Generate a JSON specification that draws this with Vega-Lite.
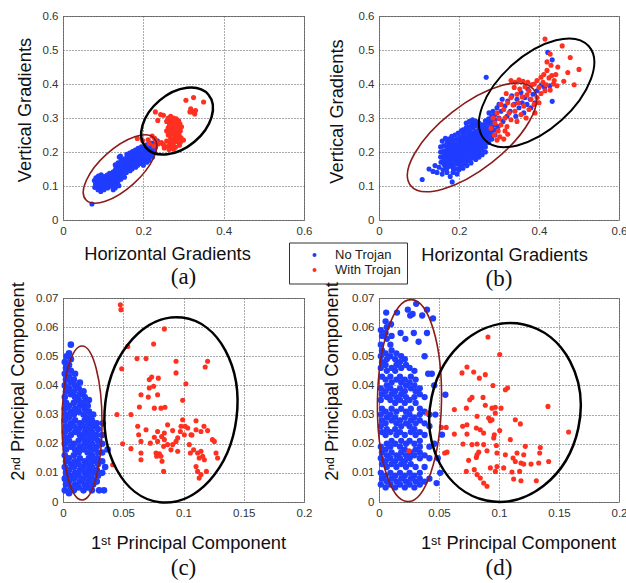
{
"$schema":"https://vega.github.io/schema/vega-lite/v6.json",
"background":"white",
"padding":{"left":7,"top":9,"right":5,"bottom":5},
"config":{
 "font":"Liberation Sans",
 "view":{"stroke":"#808080","strokeWidth":1,"fill":"white"},
 "axis":{"grid":true,"gridColor":"#555","gridDash":[1,2],"gridWidth":1,"domain":false,"ticks":false,"labelFont":"Liberation Sans","labelFontSize":11.5,"labelColor":"#333","labelPadding":5,"labelFlush":false,"labelOverlap":false,"titleFont":"Liberation Sans","titleFontSize":18.3,"titleFontWeight":"normal","titleColor":"#111","titleBaseline":"alphabetic","titleAlign":"center"},
 "title":{"font":"Liberation Serif","fontSize":23,"fontWeight":"normal","color":"#111","orient":"bottom","baseline":"alphabetic","anchor":"middle"},
 "point":{"shape":"circle","filled":true,"size":26,"opacity":1}
},
"datasets":{
"aN":[{"x":0.072,"y":0.047},{"x":0.079,"y":0.096},{"x":0.081,"y":0.106},{"x":0.078,"y":0.116},{"x":0.082,"y":0.124},{"x":0.087,"y":0.089},{"x":0.089,"y":0.099},{"x":0.086,"y":0.110},{"x":0.090,"y":0.119},{"x":0.088,"y":0.129},{"x":0.094,"y":0.084},{"x":0.096,"y":0.094},{"x":0.095,"y":0.104},{"x":0.093,"y":0.114},{"x":0.097,"y":0.123},{"x":0.095,"y":0.133},{"x":0.102,"y":0.089},{"x":0.104,"y":0.099},{"x":0.101,"y":0.109},{"x":0.105,"y":0.118},{"x":0.103,"y":0.128},{"x":0.111,"y":0.094},{"x":0.109,"y":0.104},{"x":0.112,"y":0.114},{"x":0.108,"y":0.122},{"x":0.110,"y":0.132},{"x":0.116,"y":0.099},{"x":0.118,"y":0.109},{"x":0.117,"y":0.119},{"x":0.119,"y":0.127},{"x":0.116,"y":0.137},{"x":0.125,"y":0.089},{"x":0.123,"y":0.101},{"x":0.126,"y":0.111},{"x":0.124,"y":0.121},{"x":0.122,"y":0.131},{"x":0.125,"y":0.142},{"x":0.130,"y":0.094},{"x":0.132,"y":0.107},{"x":0.131,"y":0.117},{"x":0.129,"y":0.128},{"x":0.133,"y":0.138},{"x":0.131,"y":0.150},{"x":0.130,"y":0.162},{"x":0.139,"y":0.101},{"x":0.137,"y":0.114},{"x":0.138,"y":0.125},{"x":0.140,"y":0.135},{"x":0.136,"y":0.146},{"x":0.139,"y":0.156},{"x":0.137,"y":0.168},{"x":0.140,"y":0.185},{"x":0.144,"y":0.120},{"x":0.146,"y":0.131},{"x":0.145,"y":0.142},{"x":0.143,"y":0.152},{"x":0.147,"y":0.163},{"x":0.145,"y":0.175},{"x":0.143,"y":0.188},{"x":0.153,"y":0.126},{"x":0.151,"y":0.138},{"x":0.152,"y":0.148},{"x":0.154,"y":0.158},{"x":0.150,"y":0.169},{"x":0.153,"y":0.180},{"x":0.158,"y":0.140},{"x":0.160,"y":0.150},{"x":0.159,"y":0.161},{"x":0.157,"y":0.171},{"x":0.161,"y":0.182},{"x":0.159,"y":0.193},{"x":0.167,"y":0.145},{"x":0.165,"y":0.156},{"x":0.166,"y":0.166},{"x":0.168,"y":0.176},{"x":0.164,"y":0.186},{"x":0.166,"y":0.197},{"x":0.172,"y":0.150},{"x":0.174,"y":0.161},{"x":0.173,"y":0.171},{"x":0.171,"y":0.181},{"x":0.175,"y":0.191},{"x":0.173,"y":0.201},{"x":0.181,"y":0.155},{"x":0.179,"y":0.166},{"x":0.180,"y":0.176},{"x":0.182,"y":0.186},{"x":0.178,"y":0.196},{"x":0.180,"y":0.206},{"x":0.186,"y":0.161},{"x":0.188,"y":0.171},{"x":0.187,"y":0.181},{"x":0.185,"y":0.191},{"x":0.189,"y":0.201},{"x":0.187,"y":0.211},{"x":0.195,"y":0.166},{"x":0.193,"y":0.176},{"x":0.194,"y":0.186},{"x":0.196,"y":0.196},{"x":0.192,"y":0.206},{"x":0.195,"y":0.215},{"x":0.200,"y":0.161},{"x":0.202,"y":0.173},{"x":0.201,"y":0.183},{"x":0.199,"y":0.193},{"x":0.203,"y":0.203},{"x":0.201,"y":0.213},{"x":0.209,"y":0.170},{"x":0.207,"y":0.181},{"x":0.208,"y":0.191},{"x":0.210,"y":0.201},{"x":0.206,"y":0.211},{"x":0.208,"y":0.221},{"x":0.214,"y":0.176},{"x":0.216,"y":0.188},{"x":0.215,"y":0.198},{"x":0.213,"y":0.208},{"x":0.217,"y":0.218},{"x":0.223,"y":0.185},{"x":0.221,"y":0.196},{"x":0.222,"y":0.206},{"x":0.224,"y":0.216},{"x":0.220,"y":0.226},{"x":0.228,"y":0.199},{"x":0.230,"y":0.214},{"x":0.229,"y":0.227},{"x":0.235,"y":0.233}],
"aR":[{"x":0.306,"y":0.352},{"x":0.325,"y":0.360},{"x":0.350,"y":0.347},{"x":0.318,"y":0.327},{"x":0.323,"y":0.318},{"x":0.330,"y":0.322},{"x":0.328,"y":0.312},{"x":0.316,"y":0.318},{"x":0.230,"y":0.318},{"x":0.243,"y":0.310},{"x":0.250,"y":0.308},{"x":0.236,"y":0.293},{"x":0.262,"y":0.300},{"x":0.258,"y":0.290},{"x":0.268,"y":0.305},{"x":0.275,"y":0.300},{"x":0.282,"y":0.298},{"x":0.270,"y":0.292},{"x":0.279,"y":0.290},{"x":0.288,"y":0.292},{"x":0.265,"y":0.282},{"x":0.273,"y":0.280},{"x":0.283,"y":0.282},{"x":0.291,"y":0.283},{"x":0.262,"y":0.272},{"x":0.270,"y":0.270},{"x":0.278,"y":0.272},{"x":0.287,"y":0.270},{"x":0.295,"y":0.274},{"x":0.258,"y":0.262},{"x":0.266,"y":0.260},{"x":0.275,"y":0.262},{"x":0.284,"y":0.258},{"x":0.292,"y":0.262},{"x":0.262,"y":0.250},{"x":0.272,"y":0.252},{"x":0.280,"y":0.248},{"x":0.289,"y":0.250},{"x":0.268,"y":0.240},{"x":0.276,"y":0.238},{"x":0.285,"y":0.240},{"x":0.294,"y":0.242},{"x":0.258,"y":0.232},{"x":0.266,"y":0.228},{"x":0.275,"y":0.226},{"x":0.283,"y":0.230},{"x":0.292,"y":0.228},{"x":0.300,"y":0.235},{"x":0.250,"y":0.222},{"x":0.260,"y":0.216},{"x":0.270,"y":0.218},{"x":0.280,"y":0.214},{"x":0.290,"y":0.220},{"x":0.245,"y":0.228},{"x":0.238,"y":0.224},{"x":0.232,"y":0.232},{"x":0.228,"y":0.240},{"x":0.222,"y":0.247},{"x":0.212,"y":0.236},{"x":0.198,"y":0.234},{"x":0.185,"y":0.240},{"x":0.215,"y":0.225},{"x":0.226,"y":0.218},{"x":0.252,"y":0.212},{"x":0.264,"y":0.207},{"x":0.275,"y":0.208}],
"bN":[{"x":0.108,"y":0.119},{"x":0.125,"y":0.150},{"x":0.135,"y":0.143},{"x":0.145,"y":0.140},{"x":0.150,"y":0.155},{"x":0.140,"y":0.160},{"x":0.160,"y":0.148},{"x":0.158,"y":0.135},{"x":0.170,"y":0.140},{"x":0.183,"y":0.112},{"x":0.178,"y":0.128},{"x":0.165,"y":0.160},{"x":0.155,"y":0.170},{"x":0.188,"y":0.150},{"x":0.195,"y":0.135},{"x":0.185,"y":0.140},{"x":0.154,"y":0.185},{"x":0.154,"y":0.200},{"x":0.154,"y":0.215},{"x":0.158,"y":0.232},{"x":0.166,"y":0.240},{"x":0.174,"y":0.238},{"x":0.182,"y":0.246},{"x":0.190,"y":0.250},{"x":0.198,"y":0.256},{"x":0.206,"y":0.262},{"x":0.200,"y":0.148},{"x":0.210,"y":0.152},{"x":0.220,"y":0.160},{"x":0.230,"y":0.168},{"x":0.162,"y":0.165},{"x":0.162,"y":0.178},{"x":0.162,"y":0.190},{"x":0.162,"y":0.203},{"x":0.162,"y":0.218},{"x":0.170,"y":0.152},{"x":0.170,"y":0.164},{"x":0.170,"y":0.175},{"x":0.170,"y":0.185},{"x":0.170,"y":0.195},{"x":0.170,"y":0.205},{"x":0.170,"y":0.216},{"x":0.170,"y":0.226},{"x":0.178,"y":0.158},{"x":0.178,"y":0.170},{"x":0.178,"y":0.180},{"x":0.178,"y":0.190},{"x":0.178,"y":0.200},{"x":0.178,"y":0.210},{"x":0.178,"y":0.221},{"x":0.178,"y":0.232},{"x":0.186,"y":0.150},{"x":0.186,"y":0.161},{"x":0.186,"y":0.172},{"x":0.186,"y":0.182},{"x":0.186,"y":0.192},{"x":0.186,"y":0.202},{"x":0.186,"y":0.212},{"x":0.186,"y":0.222},{"x":0.186,"y":0.235},{"x":0.194,"y":0.150},{"x":0.194,"y":0.165},{"x":0.194,"y":0.175},{"x":0.194,"y":0.185},{"x":0.194,"y":0.195},{"x":0.194,"y":0.205},{"x":0.194,"y":0.215},{"x":0.194,"y":0.225},{"x":0.194,"y":0.238},{"x":0.202,"y":0.160},{"x":0.202,"y":0.170},{"x":0.202,"y":0.180},{"x":0.202,"y":0.190},{"x":0.202,"y":0.200},{"x":0.202,"y":0.210},{"x":0.202,"y":0.220},{"x":0.202,"y":0.232},{"x":0.202,"y":0.245},{"x":0.210,"y":0.165},{"x":0.210,"y":0.178},{"x":0.210,"y":0.188},{"x":0.210,"y":0.198},{"x":0.210,"y":0.208},{"x":0.210,"y":0.218},{"x":0.210,"y":0.228},{"x":0.210,"y":0.240},{"x":0.210,"y":0.252},{"x":0.210,"y":0.265},{"x":0.218,"y":0.172},{"x":0.218,"y":0.183},{"x":0.218,"y":0.193},{"x":0.218,"y":0.203},{"x":0.218,"y":0.213},{"x":0.218,"y":0.223},{"x":0.218,"y":0.233},{"x":0.218,"y":0.245},{"x":0.218,"y":0.258},{"x":0.218,"y":0.272},{"x":0.218,"y":0.285},{"x":0.226,"y":0.175},{"x":0.226,"y":0.188},{"x":0.226,"y":0.198},{"x":0.226,"y":0.208},{"x":0.226,"y":0.218},{"x":0.226,"y":0.228},{"x":0.226,"y":0.238},{"x":0.226,"y":0.250},{"x":0.226,"y":0.262},{"x":0.226,"y":0.275},{"x":0.226,"y":0.290},{"x":0.234,"y":0.182},{"x":0.234,"y":0.195},{"x":0.234,"y":0.205},{"x":0.234,"y":0.215},{"x":0.234,"y":0.225},{"x":0.234,"y":0.235},{"x":0.234,"y":0.245},{"x":0.234,"y":0.255},{"x":0.234,"y":0.270},{"x":0.234,"y":0.283},{"x":0.234,"y":0.295},{"x":0.242,"y":0.178},{"x":0.242,"y":0.190},{"x":0.242,"y":0.202},{"x":0.242,"y":0.212},{"x":0.242,"y":0.222},{"x":0.242,"y":0.232},{"x":0.242,"y":0.242},{"x":0.242,"y":0.252},{"x":0.242,"y":0.262},{"x":0.242,"y":0.278},{"x":0.242,"y":0.290},{"x":0.250,"y":0.185},{"x":0.250,"y":0.198},{"x":0.250,"y":0.210},{"x":0.250,"y":0.220},{"x":0.250,"y":0.230},{"x":0.250,"y":0.240},{"x":0.250,"y":0.250},{"x":0.250,"y":0.260},{"x":0.250,"y":0.272},{"x":0.250,"y":0.285},{"x":0.258,"y":0.192},{"x":0.258,"y":0.205},{"x":0.258,"y":0.218},{"x":0.258,"y":0.228},{"x":0.258,"y":0.238},{"x":0.258,"y":0.248},{"x":0.258,"y":0.258},{"x":0.258,"y":0.268},{"x":0.258,"y":0.280},{"x":0.266,"y":0.200},{"x":0.266,"y":0.215},{"x":0.266,"y":0.228},{"x":0.266,"y":0.240},{"x":0.266,"y":0.250},{"x":0.266,"y":0.260},{"x":0.266,"y":0.270},{"x":0.266,"y":0.282},{"x":0.266,"y":0.292},{"x":0.274,"y":0.228},{"x":0.274,"y":0.240},{"x":0.274,"y":0.252},{"x":0.274,"y":0.262},{"x":0.274,"y":0.272},{"x":0.274,"y":0.285},{"x":0.274,"y":0.298},{"x":0.282,"y":0.238},{"x":0.282,"y":0.250},{"x":0.282,"y":0.262},{"x":0.282,"y":0.275},{"x":0.282,"y":0.290},{"x":0.282,"y":0.305},{"x":0.290,"y":0.250},{"x":0.290,"y":0.265},{"x":0.290,"y":0.280},{"x":0.290,"y":0.295},{"x":0.290,"y":0.310},{"x":0.298,"y":0.275},{"x":0.300,"y":0.300},{"x":0.305,"y":0.320},{"x":0.310,"y":0.290},{"x":0.315,"y":0.335},{"x":0.320,"y":0.305},{"x":0.322,"y":0.350},{"x":0.328,"y":0.320},{"x":0.332,"y":0.365},{"x":0.338,"y":0.340},{"x":0.342,"y":0.305},{"x":0.345,"y":0.355},{"x":0.350,"y":0.330},{"x":0.355,"y":0.375},{"x":0.358,"y":0.345},{"x":0.362,"y":0.315},{"x":0.365,"y":0.360},{"x":0.370,"y":0.340},{"x":0.372,"y":0.385},{"x":0.378,"y":0.355},{"x":0.380,"y":0.330},{"x":0.385,"y":0.370},{"x":0.300,"y":0.340},{"x":0.308,"y":0.355},{"x":0.295,"y":0.330},{"x":0.285,"y":0.320},{"x":0.275,"y":0.315},{"x":0.390,"y":0.345},{"x":0.395,"y":0.380},{"x":0.268,"y":0.420},{"x":0.422,"y":0.493},{"x":0.433,"y":0.471},{"x":0.433,"y":0.349},{"x":0.406,"y":0.397},{"x":0.414,"y":0.390},{"x":0.427,"y":0.395}],
"bR":[{"x":0.415,"y":0.532},{"x":0.458,"y":0.512},{"x":0.478,"y":0.478},{"x":0.500,"y":0.443},{"x":0.472,"y":0.434},{"x":0.488,"y":0.398},{"x":0.462,"y":0.408},{"x":0.447,"y":0.450},{"x":0.428,"y":0.488},{"x":0.420,"y":0.465},{"x":0.430,"y":0.455},{"x":0.405,"y":0.420},{"x":0.412,"y":0.428},{"x":0.420,"y":0.440},{"x":0.425,"y":0.418},{"x":0.432,"y":0.425},{"x":0.438,"y":0.410},{"x":0.410,"y":0.405},{"x":0.418,"y":0.398},{"x":0.428,"y":0.382},{"x":0.436,"y":0.400},{"x":0.442,"y":0.428},{"x":0.400,"y":0.390},{"x":0.415,"y":0.380},{"x":0.405,"y":0.372},{"x":0.395,"y":0.410},{"x":0.445,"y":0.395},{"x":0.388,"y":0.400},{"x":0.330,"y":0.410},{"x":0.340,"y":0.405},{"x":0.350,"y":0.412},{"x":0.360,"y":0.408},{"x":0.372,"y":0.405},{"x":0.382,"y":0.398},{"x":0.338,"y":0.390},{"x":0.352,"y":0.385},{"x":0.365,"y":0.392},{"x":0.375,"y":0.380},{"x":0.345,"y":0.370},{"x":0.358,"y":0.362},{"x":0.370,"y":0.368},{"x":0.380,"y":0.355},{"x":0.330,"y":0.360},{"x":0.318,"y":0.372},{"x":0.322,"y":0.345},{"x":0.335,"y":0.338},{"x":0.348,"y":0.345},{"x":0.362,"y":0.335},{"x":0.375,"y":0.325},{"x":0.388,"y":0.340},{"x":0.305,"y":0.340},{"x":0.312,"y":0.325},{"x":0.325,"y":0.315},{"x":0.340,"y":0.320},{"x":0.355,"y":0.310},{"x":0.368,"y":0.300},{"x":0.295,"y":0.315},{"x":0.300,"y":0.298},{"x":0.315,"y":0.300},{"x":0.330,"y":0.295},{"x":0.345,"y":0.290},{"x":0.285,"y":0.300},{"x":0.290,"y":0.285},{"x":0.305,"y":0.280},{"x":0.320,"y":0.275},{"x":0.298,"y":0.262},{"x":0.288,"y":0.250},{"x":0.302,"y":0.245},{"x":0.312,"y":0.238},{"x":0.322,"y":0.252},{"x":0.315,"y":0.262},{"x":0.295,"y":0.235},{"x":0.280,"y":0.270},{"x":0.390,"y":0.315},{"x":0.395,"y":0.360},{"x":0.400,"y":0.345}],
"cN":[{"x":0.0015,"y":0.004},{"x":0.0025,"y":0.006},{"x":0.0015,"y":0.008},{"x":0.0025,"y":0.010},{"x":0.0015,"y":0.012},{"x":0.0025,"y":0.014},{"x":0.0015,"y":0.016},{"x":0.0025,"y":0.018},{"x":0.0015,"y":0.020},{"x":0.0025,"y":0.022},{"x":0.0015,"y":0.024},{"x":0.0025,"y":0.026},{"x":0.0015,"y":0.028},{"x":0.0025,"y":0.030},{"x":0.0015,"y":0.032},{"x":0.0025,"y":0.034},{"x":0.0015,"y":0.036},{"x":0.0025,"y":0.038},{"x":0.0015,"y":0.040},{"x":0.0025,"y":0.042},{"x":0.0015,"y":0.044},{"x":0.0025,"y":0.046},{"x":0.0015,"y":0.048},{"x":0.003,"y":0.050},{"x":0.005,"y":0.003},{"x":0.0065,"y":0.005},{"x":0.005,"y":0.007},{"x":0.0065,"y":0.009},{"x":0.005,"y":0.011},{"x":0.0065,"y":0.013},{"x":0.005,"y":0.015},{"x":0.0065,"y":0.019},{"x":0.005,"y":0.021},{"x":0.0065,"y":0.023},{"x":0.005,"y":0.025},{"x":0.0065,"y":0.027},{"x":0.005,"y":0.029},{"x":0.0065,"y":0.031},{"x":0.005,"y":0.033},{"x":0.0065,"y":0.037},{"x":0.005,"y":0.039},{"x":0.0065,"y":0.041},{"x":0.005,"y":0.043},{"x":0.0065,"y":0.045},{"x":0.005,"y":0.047},{"x":0.0065,"y":0.049},{"x":0.005,"y":0.051},{"x":0.0065,"y":0.054},{"x":0.009,"y":0.004},{"x":0.010,"y":0.006},{"x":0.009,"y":0.008},{"x":0.010,"y":0.010},{"x":0.009,"y":0.012},{"x":0.010,"y":0.014},{"x":0.009,"y":0.016},{"x":0.010,"y":0.018},{"x":0.009,"y":0.020},{"x":0.010,"y":0.024},{"x":0.009,"y":0.026},{"x":0.010,"y":0.028},{"x":0.009,"y":0.030},{"x":0.010,"y":0.032},{"x":0.009,"y":0.034},{"x":0.010,"y":0.036},{"x":0.009,"y":0.038},{"x":0.010,"y":0.040},{"x":0.009,"y":0.042},{"x":0.010,"y":0.044},{"x":0.013,"y":0.005},{"x":0.014,"y":0.007},{"x":0.013,"y":0.009},{"x":0.014,"y":0.011},{"x":0.013,"y":0.013},{"x":0.014,"y":0.015},{"x":0.013,"y":0.017},{"x":0.014,"y":0.019},{"x":0.013,"y":0.021},{"x":0.014,"y":0.023},{"x":0.013,"y":0.025},{"x":0.014,"y":0.027},{"x":0.013,"y":0.031},{"x":0.014,"y":0.033},{"x":0.013,"y":0.035},{"x":0.014,"y":0.037},{"x":0.013,"y":0.039},{"x":0.014,"y":0.041},{"x":0.017,"y":0.004},{"x":0.018,"y":0.006},{"x":0.017,"y":0.008},{"x":0.018,"y":0.010},{"x":0.017,"y":0.012},{"x":0.018,"y":0.014},{"x":0.017,"y":0.018},{"x":0.018,"y":0.020},{"x":0.017,"y":0.022},{"x":0.018,"y":0.024},{"x":0.017,"y":0.026},{"x":0.018,"y":0.028},{"x":0.017,"y":0.030},{"x":0.018,"y":0.032},{"x":0.017,"y":0.034},{"x":0.018,"y":0.036},{"x":0.017,"y":0.038},{"x":0.0205,"y":0.005},{"x":0.0215,"y":0.007},{"x":0.0205,"y":0.009},{"x":0.0215,"y":0.011},{"x":0.0205,"y":0.013},{"x":0.0215,"y":0.015},{"x":0.0205,"y":0.017},{"x":0.0215,"y":0.019},{"x":0.0205,"y":0.021},{"x":0.0215,"y":0.023},{"x":0.0205,"y":0.025},{"x":0.0215,"y":0.027},{"x":0.0205,"y":0.029},{"x":0.0215,"y":0.031},{"x":0.0205,"y":0.033},{"x":0.0215,"y":0.035},{"x":0.024,"y":0.004},{"x":0.025,"y":0.006},{"x":0.024,"y":0.008},{"x":0.025,"y":0.010},{"x":0.024,"y":0.012},{"x":0.025,"y":0.014},{"x":0.024,"y":0.016},{"x":0.025,"y":0.018},{"x":0.024,"y":0.020},{"x":0.025,"y":0.022},{"x":0.024,"y":0.024},{"x":0.025,"y":0.026},{"x":0.024,"y":0.028},{"x":0.025,"y":0.030},{"x":0.028,"y":0.007},{"x":0.029,"y":0.009},{"x":0.028,"y":0.011},{"x":0.029,"y":0.013},{"x":0.028,"y":0.015},{"x":0.029,"y":0.017},{"x":0.028,"y":0.019},{"x":0.029,"y":0.021},{"x":0.028,"y":0.023},{"x":0.029,"y":0.025},{"x":0.028,"y":0.027},{"x":0.0325,"y":0.010},{"x":0.0325,"y":0.014},{"x":0.0325,"y":0.017},{"x":0.0325,"y":0.020},{"x":0.0325,"y":0.023},{"x":0.037,"y":0.018},{"x":0.034,"y":0.004},{"x":0.035,"y":0.012},{"x":0.033,"y":0.027},{"x":0.030,"y":0.004}],
"cR":[{"x":0.0476,"y":0.0677},{"x":0.0481,"y":0.066},{"x":0.0841,"y":0.0594},{"x":0.0537,"y":0.0534},{"x":0.0752,"y":0.0542},{"x":0.0614,"y":0.0492},{"x":0.0689,"y":0.0492},{"x":0.0487,"y":0.0457},{"x":0.0938,"y":0.0483},{"x":0.120,"y":0.0483},{"x":0.118,"y":0.0463},{"x":0.0938,"y":0.0443},{"x":0.0736,"y":0.0429},{"x":0.0716,"y":0.042},{"x":0.0791,"y":0.0425},{"x":0.0752,"y":0.0397},{"x":0.0716,"y":0.0391},{"x":0.102,"y":0.0406},{"x":0.0647,"y":0.0368},{"x":0.0708,"y":0.036},{"x":0.0785,"y":0.0368},{"x":0.0634,"y":0.0326},{"x":0.0758,"y":0.0322},{"x":0.0813,"y":0.0322},{"x":0.0846,"y":0.0325},{"x":0.0993,"y":0.0349},{"x":0.0448,"y":0.030},{"x":0.0564,"y":0.030},{"x":0.0993,"y":0.0282},{"x":0.062,"y":0.026},{"x":0.0785,"y":0.0242},{"x":0.0841,"y":0.0237},{"x":0.091,"y":0.0245},{"x":0.0974,"y":0.0242},{"x":0.1013,"y":0.026},{"x":0.1035,"y":0.0254},{"x":0.1104,"y":0.0279},{"x":0.1104,"y":0.0248},{"x":0.1062,"y":0.0231},{"x":0.1007,"y":0.0231},{"x":0.107,"y":0.023},{"x":0.120,"y":0.0245},{"x":0.124,"y":0.0214},{"x":0.1256,"y":0.0208},{"x":0.0628,"y":0.0231},{"x":0.0647,"y":0.0208},{"x":0.0725,"y":0.0202},{"x":0.0785,"y":0.0208},{"x":0.0841,"y":0.0214},{"x":0.0868,"y":0.0197},{"x":0.091,"y":0.0197},{"x":0.0938,"y":0.0208},{"x":0.0952,"y":0.0174},{"x":0.0896,"y":0.0179},{"x":0.0835,"y":0.0191},{"x":0.0495,"y":0.020},{"x":0.0564,"y":0.0183},{"x":0.0647,"y":0.0168},{"x":0.0647,"y":0.0145},{"x":0.0772,"y":0.0168},{"x":0.0785,"y":0.0162},{"x":0.080,"y":0.0165},{"x":0.0777,"y":0.0157},{"x":0.0813,"y":0.0157},{"x":0.0822,"y":0.014},{"x":0.0835,"y":0.0105},{"x":0.1048,"y":0.0197},{"x":0.1057,"y":0.0168},{"x":0.1084,"y":0.0179},{"x":0.1117,"y":0.0168},{"x":0.1145,"y":0.0174},{"x":0.1159,"y":0.0157},{"x":0.113,"y":0.0151},{"x":0.1173,"y":0.0145},{"x":0.1104,"y":0.0122},{"x":0.1117,"y":0.0105},{"x":0.1145,"y":0.0094},{"x":0.113,"y":0.0082},{"x":0.127,"y":0.0168},{"x":0.1283,"y":0.0151},{"x":0.119,"y":0.0105},{"x":0.0412,"y":0.0128},{"x":0.0868,"y":0.0265},{"x":0.0952,"y":0.022},{"x":0.0819,"y":0.0225},{"x":0.0758,"y":0.0222},{"x":0.0689,"y":0.0248},{"x":0.117,"y":0.026},{"x":0.1145,"y":0.0242},{"x":0.098,"y":0.026}],
"dN":[{"x":0.0015,"y":0.006},{"x":0.0025,"y":0.008},{"x":0.0015,"y":0.010},{"x":0.0025,"y":0.013},{"x":0.0015,"y":0.015},{"x":0.0025,"y":0.017},{"x":0.0015,"y":0.019},{"x":0.0025,"y":0.024},{"x":0.0015,"y":0.026},{"x":0.0025,"y":0.028},{"x":0.0015,"y":0.030},{"x":0.0025,"y":0.032},{"x":0.0015,"y":0.035},{"x":0.0025,"y":0.037},{"x":0.0015,"y":0.039},{"x":0.0025,"y":0.043},{"x":0.0015,"y":0.046},{"x":0.0025,"y":0.048},{"x":0.0015,"y":0.050},{"x":0.0025,"y":0.052},{"x":0.0015,"y":0.054},{"x":0.0025,"y":0.057},{"x":0.0015,"y":0.059},{"x":0.0055,"y":0.005},{"x":0.0065,"y":0.007},{"x":0.0055,"y":0.009},{"x":0.0065,"y":0.012},{"x":0.0055,"y":0.014},{"x":0.0065,"y":0.016},{"x":0.0055,"y":0.018},{"x":0.0065,"y":0.020},{"x":0.0055,"y":0.023},{"x":0.0065,"y":0.025},{"x":0.0055,"y":0.027},{"x":0.0065,"y":0.029},{"x":0.0055,"y":0.031},{"x":0.0065,"y":0.036},{"x":0.0055,"y":0.038},{"x":0.0065,"y":0.040},{"x":0.0055,"y":0.042},{"x":0.0065,"y":0.045},{"x":0.0055,"y":0.047},{"x":0.0065,"y":0.049},{"x":0.0055,"y":0.051},{"x":0.0065,"y":0.056},{"x":0.0055,"y":0.058},{"x":0.0065,"y":0.060},{"x":0.0055,"y":0.062},{"x":0.0095,"y":0.006},{"x":0.0105,"y":0.008},{"x":0.0095,"y":0.010},{"x":0.0105,"y":0.013},{"x":0.0095,"y":0.015},{"x":0.0105,"y":0.017},{"x":0.0095,"y":0.019},{"x":0.0105,"y":0.021},{"x":0.0095,"y":0.024},{"x":0.0105,"y":0.028},{"x":0.0095,"y":0.030},{"x":0.0105,"y":0.032},{"x":0.0095,"y":0.035},{"x":0.0105,"y":0.037},{"x":0.0095,"y":0.039},{"x":0.0105,"y":0.041},{"x":0.0095,"y":0.043},{"x":0.0105,"y":0.046},{"x":0.0095,"y":0.050},{"x":0.0105,"y":0.052},{"x":0.0095,"y":0.054},{"x":0.0105,"y":0.057},{"x":0.0135,"y":0.005},{"x":0.0145,"y":0.007},{"x":0.0135,"y":0.009},{"x":0.0145,"y":0.012},{"x":0.0135,"y":0.014},{"x":0.0145,"y":0.016},{"x":0.0135,"y":0.020},{"x":0.0145,"y":0.023},{"x":0.0135,"y":0.025},{"x":0.0145,"y":0.027},{"x":0.0135,"y":0.029},{"x":0.0145,"y":0.031},{"x":0.0135,"y":0.034},{"x":0.0145,"y":0.036},{"x":0.0135,"y":0.038},{"x":0.0145,"y":0.042},{"x":0.0135,"y":0.045},{"x":0.0145,"y":0.047},{"x":0.0135,"y":0.049},{"x":0.0145,"y":0.051},{"x":0.0175,"y":0.006},{"x":0.0185,"y":0.008},{"x":0.0175,"y":0.010},{"x":0.0185,"y":0.013},{"x":0.0175,"y":0.015},{"x":0.0185,"y":0.017},{"x":0.0175,"y":0.019},{"x":0.0185,"y":0.021},{"x":0.0175,"y":0.024},{"x":0.0185,"y":0.026},{"x":0.0175,"y":0.028},{"x":0.0185,"y":0.032},{"x":0.0175,"y":0.035},{"x":0.0185,"y":0.037},{"x":0.0175,"y":0.039},{"x":0.0185,"y":0.041},{"x":0.0175,"y":0.043},{"x":0.0185,"y":0.046},{"x":0.0175,"y":0.048},{"x":0.0185,"y":0.050},{"x":0.0215,"y":0.005},{"x":0.0225,"y":0.007},{"x":0.0215,"y":0.009},{"x":0.0225,"y":0.012},{"x":0.0215,"y":0.014},{"x":0.0225,"y":0.016},{"x":0.0215,"y":0.018},{"x":0.0225,"y":0.020},{"x":0.0215,"y":0.023},{"x":0.0225,"y":0.027},{"x":0.0215,"y":0.029},{"x":0.0225,"y":0.031},{"x":0.0215,"y":0.034},{"x":0.0225,"y":0.036},{"x":0.0215,"y":0.038},{"x":0.0225,"y":0.040},{"x":0.0215,"y":0.042},{"x":0.0225,"y":0.047},{"x":0.0215,"y":0.049},{"x":0.0255,"y":0.006},{"x":0.0265,"y":0.008},{"x":0.0255,"y":0.010},{"x":0.0265,"y":0.013},{"x":0.0255,"y":0.015},{"x":0.0265,"y":0.017},{"x":0.0255,"y":0.021},{"x":0.0265,"y":0.024},{"x":0.0255,"y":0.026},{"x":0.0265,"y":0.028},{"x":0.0255,"y":0.030},{"x":0.0265,"y":0.032},{"x":0.0255,"y":0.035},{"x":0.0265,"y":0.039},{"x":0.0255,"y":0.041},{"x":0.0265,"y":0.043},{"x":0.0255,"y":0.046},{"x":0.0295,"y":0.005},{"x":0.0305,"y":0.007},{"x":0.0295,"y":0.009},{"x":0.0305,"y":0.012},{"x":0.0295,"y":0.016},{"x":0.0305,"y":0.018},{"x":0.0295,"y":0.020},{"x":0.0305,"y":0.023},{"x":0.0295,"y":0.025},{"x":0.0305,"y":0.027},{"x":0.0295,"y":0.029},{"x":0.0305,"y":0.034},{"x":0.0295,"y":0.036},{"x":0.0305,"y":0.038},{"x":0.0295,"y":0.040},{"x":0.0305,"y":0.042},{"x":0.0295,"y":0.045},{"x":0.034,"y":0.006},{"x":0.034,"y":0.008},{"x":0.034,"y":0.010},{"x":0.034,"y":0.015},{"x":0.034,"y":0.017},{"x":0.034,"y":0.019},{"x":0.034,"y":0.021},{"x":0.034,"y":0.024},{"x":0.034,"y":0.028},{"x":0.034,"y":0.030},{"x":0.034,"y":0.032},{"x":0.034,"y":0.037},{"x":0.034,"y":0.039},{"x":0.038,"y":0.007},{"x":0.038,"y":0.012},{"x":0.038,"y":0.016},{"x":0.038,"y":0.023},{"x":0.038,"y":0.027},{"x":0.038,"y":0.031},{"x":0.038,"y":0.036},{"x":0.042,"y":0.008},{"x":0.042,"y":0.015},{"x":0.042,"y":0.019},{"x":0.042,"y":0.026},{"x":0.042,"y":0.030},{"x":0.024,"y":0.066},{"x":0.031,"y":0.068},{"x":0.036,"y":0.064},{"x":0.040,"y":0.066},{"x":0.015,"y":0.065},{"x":0.026,"y":0.064},{"x":0.028,"y":0.0645},{"x":0.045,"y":0.063},{"x":0.040,"y":0.058},{"x":0.033,"y":0.055},{"x":0.018,"y":0.058},{"x":0.022,"y":0.056},{"x":0.038,"y":0.050},{"x":0.044,"y":0.044},{"x":0.041,"y":0.044},{"x":0.046,"y":0.040},{"x":0.010,"y":0.061},{"x":0.006,"y":0.065},{"x":0.029,"y":0.058},{"x":0.0553,"y":0.0368},{"x":0.0525,"y":0.0231},{"x":0.051,"y":0.010},{"x":0.048,"y":0.0065},{"x":0.047,"y":0.030},{"x":0.046,"y":0.020},{"x":0.049,"y":0.015}],
"dR":[{"x":0.0908,"y":0.0566},{"x":0.1006,"y":0.0506},{"x":0.0733,"y":0.0463},{"x":0.0789,"y":0.0446},{"x":0.0836,"y":0.0425},{"x":0.0886,"y":0.0437},{"x":0.0692,"y":0.0443},{"x":0.095,"y":0.040},{"x":0.1072,"y":0.0391},{"x":0.1053,"y":0.0385},{"x":0.0775,"y":0.0359},{"x":0.0756,"y":0.0351},{"x":0.0867,"y":0.0359},{"x":0.0886,"y":0.0332},{"x":0.0942,"y":0.0322},{"x":0.0969,"y":0.0325},{"x":0.1017,"y":0.0322},{"x":0.0628,"y":0.0317},{"x":0.0728,"y":0.0322},{"x":0.0969,"y":0.0305},{"x":0.0817,"y":0.0294},{"x":0.0914,"y":0.0288},{"x":0.0928,"y":0.0279},{"x":0.0942,"y":0.0282},{"x":0.0733,"y":0.0265},{"x":0.0697,"y":0.026},{"x":0.1136,"y":0.0282},{"x":0.1178,"y":0.0268},{"x":0.1408,"y":0.0328},{"x":0.158,"y":0.024},{"x":0.056,"y":0.0256},{"x":0.052,"y":0.0256},{"x":0.0406,"y":0.0305},{"x":0.0811,"y":0.0254},{"x":0.0844,"y":0.0248},{"x":0.0628,"y":0.0233},{"x":0.0733,"y":0.0233},{"x":0.0872,"y":0.0237},{"x":0.0961,"y":0.0231},{"x":0.1006,"y":0.0245},{"x":0.0956,"y":0.022},{"x":0.1094,"y":0.0214},{"x":0.1219,"y":0.0191},{"x":0.070,"y":0.0199},{"x":0.0775,"y":0.0197},{"x":0.0817,"y":0.0199},{"x":0.0872,"y":0.0197},{"x":0.0978,"y":0.0194},{"x":0.0567,"y":0.0171},{"x":0.0547,"y":0.0168},{"x":0.0831,"y":0.0171},{"x":0.0817,"y":0.0162},{"x":0.090,"y":0.0176},{"x":0.0983,"y":0.0168},{"x":0.1344,"y":0.0187},{"x":0.1339,"y":0.0168},{"x":0.0747,"y":0.0143},{"x":0.0811,"y":0.0153},{"x":0.1117,"y":0.0151},{"x":0.1136,"y":0.0139},{"x":0.1183,"y":0.0134},{"x":0.1206,"y":0.013},{"x":0.1267,"y":0.013},{"x":0.1331,"y":0.0134},{"x":0.1414,"y":0.0139},{"x":0.0728,"y":0.0105},{"x":0.0794,"y":0.0111},{"x":0.0928,"y":0.0117},{"x":0.0983,"y":0.0122},{"x":0.1039,"y":0.0117},{"x":0.1108,"y":0.0103},{"x":0.1172,"y":0.0105},{"x":0.0817,"y":0.0094},{"x":0.0844,"y":0.0082},{"x":0.1122,"y":0.0079},{"x":0.1183,"y":0.0073},{"x":0.1311,"y":0.0073},{"x":0.0872,"y":0.0065},{"x":0.090,"y":0.0054},{"x":0.097,"y":0.0105},{"x":0.1053,"y":0.0162},{"x":0.115,"y":0.0168},{"x":0.1206,"y":0.0162},{"x":0.025,"y":0.0176}]
},
"columns":2,
"spacing":{"row":78,"column":75},
"bounds":"flush",
"resolve":{"scale":{"color":"independent"},"legend":{"color":"independent"}},
"concat":[
{"width":241,"height":204,"title":{"text":"(a)","offset":4},
 "encoding":{"x":{"field":"x","type":"quantitative","scale":{"domain":[0,0.6],"nice":false,"zero":false},"axis":{"values":[0,0.2,0.4,0.6],"format":"~g","title":"Horizontal Gradients","titleX":104,"titleY":39}},
  "y":{"field":"y","type":"quantitative","scale":{"domain":[0,0.6],"nice":false,"zero":false},"axis":{"values":[0,0.1,0.2,0.3,0.4,0.5,0.6],"format":"~g","title":"Vertical Gradients","titleX":-33,"titleY":93.5}}},
 "layer":[
  {"data":{"name":"aN"},"mark":{"type":"point","color":"#1f3cff"}},
  {"data":{"name":"aR"},"mark":{"type":"point","color":"#ff3020"}},
  {"data":{"values":[{"x":0.142,"y":0.150}]},"mark":{"type":"point","shape":"M-1,0A1,0.435 0 1,0 1,0A1,0.435 0 1,0 -1,0","size":8464,"angle":318,"filled":false,"stroke":"#8b1a1a","strokeWidth":1.6}},
  {"data":{"values":[{"x":0.284,"y":0.291}]},"mark":{"type":"point","shape":"M-1,0A1,0.659 0 1,0 1,0A1,0.659 0 1,0 -1,0","size":6724,"angle":320,"filled":false,"stroke":"#000","strokeWidth":2.5}}
 ]},
{"width":240,"height":204,"title":{"text":"(b)","offset":5},
 "encoding":{"x":{"field":"x","type":"quantitative","scale":{"domain":[0,0.6],"nice":false,"zero":false},"axis":{"values":[0,0.2,0.4,0.6],"format":"~g","title":"Horizontal Gradients","titleX":125,"titleY":40}},
  "y":{"field":"y","type":"quantitative","scale":{"domain":[0,0.6],"nice":false,"zero":false},"axis":{"values":[0,0.1,0.2,0.3,0.4,0.5,0.6],"format":"~g","title":"Vertical Gradients","titleX":-37,"titleY":95}}},
 "layer":[
  {"data":{"name":"bN"},"mark":{"type":"point","color":"#1f3cff"}},
  {"data":{"name":"bR"},"mark":{"type":"point","color":"#ff3020"}},
  {"data":{"values":[{"x":0.2325,"y":0.243}]},"mark":{"type":"point","shape":"M-1,0A1,0.41 0 1,0 1,0A1,0.41 0 1,0 -1,0","size":24336,"angle":322,"filled":false,"stroke":"#8b1a1a","strokeWidth":1.6}},
  {"data":{"values":[{"x":0.394,"y":0.374}]},"mark":{"type":"point","shape":"M-1,0A1,0.529 0 1,0 1,0A1,0.529 0 1,0 -1,0","size":19600,"angle":318,"filled":false,"stroke":"#000","strokeWidth":2}}
 ]},
{"width":241,"height":204,"title":{"text":"(c)","offset":6},
 "encoding":{"x":{"field":"x","type":"quantitative","scale":{"domain":[0,0.2],"nice":false,"zero":false},"axis":{"values":[0,0.05,0.1,0.15,0.2],"format":"~g","title":"1ˢᵗ Principal Component","titleX":125,"titleY":46}},
  "y":{"field":"y","type":"quantitative","scale":{"domain":[0,0.07],"nice":false,"zero":false},"axis":{"values":[0,0.01,0.02,0.03,0.04,0.05,0.06,0.07],"format":"~g","title":"2ⁿᵈ Principal Component","titleX":-40,"titleY":83}}},
 "layer":[
  {"data":{"name":"cN"},"mark":{"type":"point","size":44},"encoding":{"color":{"datum":"No Trojan","type":"nominal","scale":{"domain":["No Trojan","With Trojan"],"range":["#1f3cff","#ff3020"]},"legend":{"title":null,"orient":"none","legendX":226,"legendY":-55.5,"strokeColor":"#333","fillColor":"#fff","padding":6,"symbolSize":16,"symbolType":"circle","symbolOffset":13,"labelOffset":14,"labelFontSize":13,"labelFont":"Liberation Sans","labelColor":"#222","rowPadding":1,"cornerRadius":0}}}},
  {"data":{"name":"cR"},"mark":{"type":"point"},"encoding":{"color":{"datum":"With Trojan","type":"nominal"}}},
  {"data":{"values":[{"x":0.0158,"y":0.0271}]},"mark":{"type":"point","shape":"M-1,0A1,0.26 0 1,0 1,0A1,0.26 0 1,0 -1,0","size":23716,"angle":90,"filled":false,"stroke":"#8b1a1a","strokeWidth":1.6}},
  {"data":{"values":[{"x":0.0896,"y":0.0316}]},"mark":{"type":"point","shape":"M-1,0A1,0.71 0 1,0 1,0A1,0.71 0 1,0 -1,0","size":34596,"angle":97,"filled":false,"stroke":"#000","strokeWidth":2.5}}
 ]},
{"width":240,"height":204,"title":{"text":"(d)","offset":6},
 "encoding":{"x":{"field":"x","type":"quantitative","scale":{"domain":[0,0.2],"nice":false,"zero":false},"axis":{"values":[0,0.05,0.1,0.15,0.2],"format":"~g","title":"1ˢᵗ Principal Component","titleX":139,"titleY":46}},
  "y":{"field":"y","type":"quantitative","scale":{"domain":[0,0.07],"nice":false,"zero":false},"axis":{"values":[0,0.01,0.02,0.03,0.04,0.05,0.06,0.07],"format":"~g","title":"2ⁿᵈ Principal Component","titleX":-42,"titleY":83}}},
 "layer":[
  {"data":{"name":"dN"},"mark":{"type":"point","color":"#1f3cff","size":40}},
  {"data":{"name":"dR"},"mark":{"type":"point","color":"#ff3020"}},
  {"data":{"values":[{"x":0.0254,"y":0.0348}]},"mark":{"type":"point","shape":"M-1,0A1,0.317 0 1,0 1,0A1,0.317 0 1,0 -1,0","size":40804,"angle":91,"filled":false,"stroke":"#8b1a1a","strokeWidth":1.6}},
  {"data":{"values":[{"x":0.105,"y":0.0307}]},"mark":{"type":"point","shape":"M-1,0A1,0.833 0 1,0 1,0A1,0.833 0 1,0 -1,0","size":32400,"angle":102,"filled":false,"stroke":"#000","strokeWidth":2.5}}
 ]}
]
}
